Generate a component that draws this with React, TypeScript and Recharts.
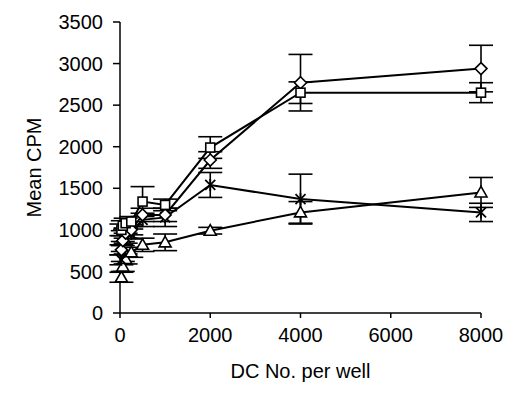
import React from "react";
import { LineChart, Line, XAxis, YAxis, ErrorBar, Label } from "recharts";

const dcNumbers = [31.25, 62.5, 125, 250, 500, 1000, 2000, 4000, 8000];
const squareCpm = [1000, 1050, 1080, 1100, 1340, 1300, 1990, 2650, 2650];
const squareErr = [70, 60, 60, 60, 180, 70, 130, 130, 120];
const diamondCpm = [760, 870, 960, 1000, 1180, 1180, 1840, 2770, 2940];
const diamondErr = [60, 60, 60, 60, 80, 80, 100, 340, 280];
const starCpm = [640, 800, 900, 950, 1120, 1150, 1540, 1370, 1210];
const starErr = [60, 60, 60, 60, 80, 110, 150, 300, 110];
const triangleCpm = [430, 560, 650, 730, 820, 850, 990, 1210, 1450];
const triangleErr = [60, 60, 60, 60, 80, 100, 40, 130, 180];
const xTicks = [0, 2000, 4000, 6000, 8000];
const yTicks = [0, 500, 1000, 1500, 2000, 2500, 3000, 3500];

const data = dcNumbers.map((x, i) => ({
  x,
  sq: squareCpm[i],
  sqErr: squareErr[i],
  di: diamondCpm[i],
  diErr: diamondErr[i],
  st: starCpm[i],
  stErr: starErr[i],
  tr: triangleCpm[i],
  trErr: triangleErr[i],
}));

const FONT = "'Liberation Sans', Arial, sans-serif";

const SquareDot = (p: any) => (
  <rect key={`sq-${p.index}`} x={p.cx - 4.5} y={p.cy - 4.5} width={9} height={9} fill="#fff" stroke="#000" strokeWidth={1.6} />
);
const DiamondDot = (p: any) => (
  <path key={`di-${p.index}`} d={`M${p.cx},${p.cy - 6} L${p.cx + 6},${p.cy} L${p.cx},${p.cy + 6} L${p.cx - 6},${p.cy} Z`} fill="#fff" stroke="#000" strokeWidth={1.6} />
);
const StarDot = (p: any) => (
  <g key={`st-${p.index}`} stroke="#000" strokeWidth={1.8}>
    <line x1={p.cx - 5} y1={p.cy - 5} x2={p.cx + 5} y2={p.cy + 5} />
    <line x1={p.cx - 5} y1={p.cy + 5} x2={p.cx + 5} y2={p.cy - 5} />
    <line x1={p.cx} y1={p.cy - 6} x2={p.cx} y2={p.cy + 6} />
  </g>
);
const TriangleDot = (p: any) => (
  <path key={`tr-${p.index}`} d={`M${p.cx},${p.cy - 6} L${p.cx + 6},${p.cy + 4.5} L${p.cx - 6},${p.cy + 4.5} Z`} fill="#fff" stroke="#000" strokeWidth={1.6} />
);

const tickStyle = { fontFamily: FONT, fontSize: 20, fill: "#000" };

export default function App() {
  return (
    <div style={{ position: "absolute", left: 0, top: 0, background: "#fff" }}>
      <LineChart width={514} height={396} data={data} margin={{ top: 22, right: 33, bottom: 0, left: 0 }}>
        <XAxis
          dataKey="x"
          type="number"
          domain={[0, 8000]}
          ticks={xTicks}
          height={83}
          tickSize={5}
          tickMargin={10}
          tick={tickStyle}
          axisLine={{ stroke: "#000", strokeWidth: 1.5 }}
          tickLine={{ stroke: "#000", strokeWidth: 1.5 }}
        >
          <Label value="DC No. per well" position="insideBottom" offset={18} style={{ fontFamily: FONT, fontSize: 20, fill: "#000" }} />
        </XAxis>
        <YAxis
          type="number"
          domain={[0, 3500]}
          ticks={yTicks}
          width={120}
          tickSize={7}
          tickMargin={10}
          tick={tickStyle}
          axisLine={{ stroke: "#000", strokeWidth: 1.5 }}
          tickLine={{ stroke: "#000", strokeWidth: 1.5 }}
        >
          <Label
            value="Mean CPM"
            angle={-90}
            position="insideLeft"
            content={(props: any) => {
              const vb = props.viewBox || {};
              const cy = vb.y + vb.height / 2;
              return (
                <text x={41} y={cy} transform={`rotate(-90, 41, ${cy})`} textAnchor="middle" style={{ fontFamily: FONT, fontSize: 20, fill: "#000" }}>
                  Mean CPM
                </text>
              );
            }}
          />
        </YAxis>
        <Line dataKey="tr" stroke="#000" strokeWidth={2} dot={TriangleDot} isAnimationActive={false}>
          <ErrorBar dataKey="trErr" width={12} stroke="#000" strokeWidth={1.6} direction="y" />
        </Line>
        <Line dataKey="st" stroke="#000" strokeWidth={2} dot={StarDot} isAnimationActive={false}>
          <ErrorBar dataKey="stErr" width={12} stroke="#000" strokeWidth={1.6} direction="y" />
        </Line>
        <Line dataKey="di" stroke="#000" strokeWidth={2} dot={DiamondDot} isAnimationActive={false}>
          <ErrorBar dataKey="diErr" width={12} stroke="#000" strokeWidth={1.6} direction="y" />
        </Line>
        <Line dataKey="sq" stroke="#000" strokeWidth={2} dot={SquareDot} isAnimationActive={false}>
          <ErrorBar dataKey="sqErr" width={12} stroke="#000" strokeWidth={1.6} direction="y" />
        </Line>
      </LineChart>
    </div>
  );
}
